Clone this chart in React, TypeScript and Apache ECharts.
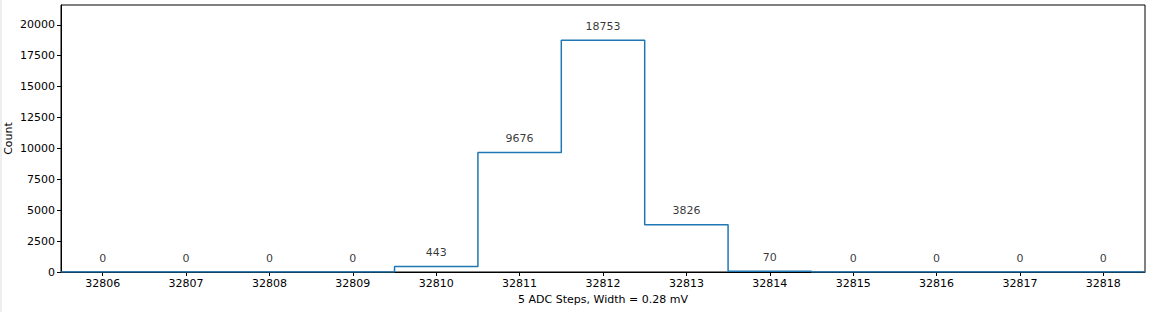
import React, { useEffect, useRef } from "react";
import * as echarts from "echarts";

const binCenters = [32806, 32807, 32808, 32809, 32810, 32811, 32812, 32813, 32814, 32815, 32816, 32817, 32818];
const counts = [0, 0, 0, 0, 443, 9676, 18753, 3826, 70, 0, 0, 0, 0];
const yTicks = [0, 2500, 5000, 7500, 10000, 12500, 15000, 17500, 20000];
const xTitle = "5 ADC Steps, Width = 0.28 mV";
const yTitle = "Count";

export default function App() {
  const ref = useRef<HTMLDivElement>(null);
  useEffect(() => {
    if (!ref.current) return;
    const chart = echarts.init(ref.current, null, { renderer: "svg" });
    // step outline (matplotlib histtype='step') built from bin edges
    const stepPts: number[][] = [];
    const first = binCenters[0] - 0.5;
    stepPts.push([first, 0]);
    binCenters.forEach((c, i) => {
      stepPts.push([c - 0.5, counts[i]]);
      stepPts.push([c + 0.5, counts[i]]);
    });
    stepPts.push([binCenters[binCenters.length - 1] + 0.5, 0]);
    const font = "DejaVu Sans";
    chart.setOption({
      animation: false,
      backgroundColor: "#ffffff",
      textStyle: { fontFamily: font },
      graphic: [
        { type: "rect", left: 0, top: 0, shape: { width: 2, height: 312 }, style: { fill: "#eeeeee" } },
      ],
      grid: {
        left: 61,
        right: 9,
        top: 5,
        bottom: 40,
        containLabel: false,
        outerBoundsMode: "none",
        show: true,
        borderColor: "#000",
        borderWidth: 1,
        backgroundColor: "transparent",
      },
      xAxis: [
        {
          type: "category",
          data: binCenters.map(String),
          boundaryGap: true,
          axisLine: { show: true, lineStyle: { color: "#000", width: 1 } },
          axisTick: { show: true, alignWithLabel: true, length: 4, lineStyle: { color: "#000" } },
          axisLabel: { color: "#000", fontSize: 11, fontFamily: font, margin: 6 },
          splitLine: { show: false },
          name: xTitle,
          nameLocation: "middle",
          nameGap: 22,
          nameMoveOverlap: false,
          nameTextStyle: { color: "#000", fontSize: 11, fontFamily: font },
        },
        {
          type: "value",
          min: binCenters[0] - 0.5,
          max: binCenters[binCenters.length - 1] + 0.5,
          show: false,
        },
      ],
      yAxis: {
        type: "value",
        min: 0,
        max: 21600,
        interval: 2500,
        axisLine: { show: true, lineStyle: { color: "#000", width: 1 } },
        axisTick: { show: true, length: 4, lineStyle: { color: "#000" } },
        axisLabel: {
          color: "#000",
          fontSize: 11,
          fontFamily: font,
          margin: 6,
          showMaxLabel: false,
          formatter: (v: number) => (yTicks.includes(v) ? String(v) : ""),
        },
        splitLine: { show: false },
        name: yTitle,
        nameLocation: "middle",
        nameGap: 47,
        nameMoveOverlap: false,
        nameTextStyle: { color: "#000", fontSize: 11, fontFamily: font },
      },
      series: [
        {
          type: "line",
          xAxisIndex: 1,
          data: stepPts,
          symbol: "none",
          lineStyle: { color: "#1f77b4", width: 1.5 },
          z: 3,
        },
        {
          type: "scatter",
          xAxisIndex: 0,
          data: counts,
          symbolSize: 1,
          itemStyle: { color: "rgba(0,0,0,0)" },
          label: {
            show: true,
            position: "top",
            distance: 8,
            color: "#000",
            fontSize: 11,
            fontFamily: font,
            formatter: (p: any) => String(p.value),
          },
          z: 4,
        },
      ],
    });
    return () => chart.dispose();
  }, []);
  return (
    <div
      ref={ref}
      style={{ position: "fixed", left: 0, top: 0, width: 1154, height: 312 }}
    />
  );
}
